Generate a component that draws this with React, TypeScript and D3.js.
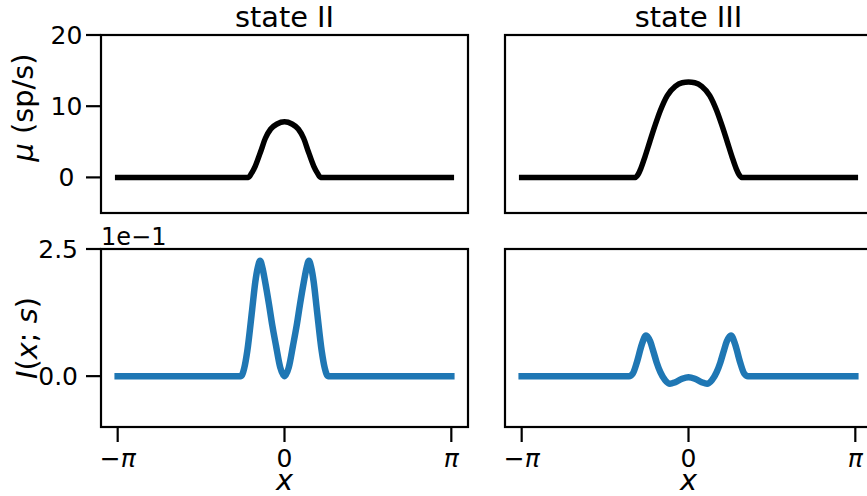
import React from 'react';
import * as d3 from 'd3';

const PI = Math.PI;

// ---- tick / label data ----
const panelTitles = ['state II', 'state III'];
const xTickValues = [-PI, 0, PI];
const xTickLabels = ['−π', '0', 'π'];
const muYTicks = [0, 10, 20];
const muYTickLabels = ['0', '10', '20'];
const infoYTicks = [0, 0.25];
const infoYTickLabels = ['0.0', '2.5'];

// ---- series data ----
const muIIx = [-PI, -0.68, -0.62, -0.55, -0.45, -0.36, -0.26, -0.14, 0, 0.14, 0.26, 0.36, 0.45, 0.55, 0.62, 0.68, PI];
const muIIy = [0, 0, 0.6, 1.6, 3.6, 5.5, 6.8, 7.5, 7.8, 7.5, 6.8, 5.5, 3.6, 1.6, 0.6, 0, 0];

const muIIIx = [-PI, -1.0, -0.95, -0.9, -0.82, -0.73, -0.63, -0.53, -0.4, -0.25, -0.12, 0, 0.12, 0.25, 0.4, 0.53, 0.63, 0.73, 0.82, 0.9, 0.95, 1.0, PI];
const muIIIy = [0, 0, 0.4, 1.2, 2.9, 5.0, 7.3, 9.4, 11.5, 12.8, 13.3, 13.4, 13.3, 12.8, 11.5, 9.4, 7.3, 5.0, 2.9, 1.2, 0.4, 0, 0];

const infoIIx = [-PI, -0.82, -0.76, -0.7, -0.61, -0.55, -0.5, -0.46, -0.42, -0.36, -0.29, -0.23, -0.16, -0.08, 0, 0.08, 0.16, 0.23, 0.29, 0.36, 0.42, 0.46, 0.5, 0.55, 0.61, 0.7, 0.76, 0.82, PI];
const infoIIy = [0, 0, 0.015, 0.05, 0.13, 0.185, 0.215, 0.227, 0.215, 0.183, 0.14, 0.1, 0.06, 0.017, 0, 0.017, 0.06, 0.1, 0.14, 0.183, 0.215, 0.227, 0.215, 0.185, 0.13, 0.05, 0.015, 0, 0];

const infoIIIx = [-PI, -1.12, -1.05, -0.97, -0.88, -0.8, -0.72, -0.66, -0.6, -0.53, -0.44, -0.35, -0.25, -0.12, 0, 0.12, 0.25, 0.35, 0.44, 0.53, 0.6, 0.66, 0.72, 0.8, 0.88, 0.97, 1.05, 1.12, PI];
const infoIIIy = [0, 0, 0.005, 0.028, 0.062, 0.08, 0.068, 0.048, 0.027, 0.008, -0.008, -0.015, -0.012, -0.005, -0.002, -0.005, -0.012, -0.015, -0.008, 0.008, 0.027, 0.048, 0.068, 0.08, 0.062, 0.028, 0.005, 0, 0];

const FONT = '"DejaVu Sans", Verdana, sans-serif';
const BLUE = '#1f77b4';

function mathText(label: string) {
  return label.split('').map((c, i) =>
    c === 'π' || c === 'μ' ? (
      <tspan key={i} fontStyle="italic">{c}</tspan>
    ) : (
      <tspan key={i}>{c}</tspan>
    )
  );
}

export default function App() {
  const W = 867;
  const H = 496;
  const colLeft = [101, 505];
  const axW = 367;
  const rowTop = [35, 249];
  const axH = 178;
  const tickLen = 15;
  const spineW = 2.2;

  const xScales = colLeft.map((l) => d3.scaleLinear().domain([-PI * 1.1, PI * 1.1]).range([l, l + axW]));
  const yMu = d3.scaleLinear().domain([-5, 20]).range([rowTop[0] + axH, rowTop[0]]);
  const yInfo = d3.scaleLinear().domain([-0.1, 0.25]).range([rowTop[1] + axH, rowTop[1]]);

  const mkLine = (xs: number[], ys: number[], xS: d3.ScaleLinear<number, number>, yS: d3.ScaleLinear<number, number>) =>
    d3
      .line<number>()
      .x((_, i) => xS(xs[i]))
      .y((d) => yS(d))
      .curve(d3.curveMonotoneX)(ys) || '';

  const muSeries = [
    { xs: muIIx, ys: muIIy },
    { xs: muIIIx, ys: muIIIy },
  ];
  const infoSeries = [
    { xs: infoIIx, ys: infoIIy },
    { xs: infoIIIx, ys: infoIIIy },
  ];

  return (
    <svg
      width={W}
      height={H}
      style={{ position: 'absolute', left: 0, top: 0, background: '#fff' }}
      fontFamily={FONT}
    >
      <rect x={0} y={0} width={W} height={H} fill="#fff" />
      {[0, 1].map((c) => {
        const xS = xScales[c];
        const cx = xS(0);
        return (
          <g key={c}>
            <text x={cx} y={27} textAnchor="middle" fontSize={28.8}>
              {panelTitles[c]}
            </text>
            <path
              d={mkLine(muSeries[c].xs, muSeries[c].ys, xS, yMu)}
              fill="none"
              stroke="#000"
              strokeWidth={5.5}
              strokeLinecap="square"
              strokeLinejoin="round"
            />
            <rect x={colLeft[c]} y={rowTop[0]} width={axW} height={axH} fill="none" stroke="#000" strokeWidth={spineW} />
            <path
              d={mkLine(infoSeries[c].xs, infoSeries[c].ys, xS, yInfo)}
              fill="none"
              stroke={BLUE}
              strokeWidth={6.5}
              strokeLinecap="square"
              strokeLinejoin="round"
            />
            <rect x={colLeft[c]} y={rowTop[1]} width={axW} height={axH} fill="none" stroke="#000" strokeWidth={spineW} />
            {xTickValues.map((v, i) => (
              <g key={i}>
                <line x1={xS(v)} x2={xS(v)} y1={rowTop[1] + axH} y2={rowTop[1] + axH + tickLen} stroke="#000" strokeWidth={spineW} />
                <text x={xS(v)} y={467} textAnchor="middle" fontSize={25}>
                  {mathText(xTickLabels[i])}
                </text>
              </g>
            ))}
            <text x={cx} y={490} textAnchor="middle" fontSize={28.8} fontStyle="italic">
              x
            </text>
          </g>
        );
      })}

      {muYTicks.map((v, i) => (
        <g key={'m' + i}>
          <line x1={colLeft[0] - tickLen} x2={colLeft[0]} y1={yMu(v)} y2={yMu(v)} stroke="#000" strokeWidth={spineW} />
          <text x={66.5} y={yMu(v)} dy="0.36em" textAnchor="middle" fontSize={25}>
            {muYTickLabels[i]}
          </text>
        </g>
      ))}
      {infoYTicks.map((v, i) => (
        <g key={'i' + i}>
          <line x1={colLeft[0] - tickLen} x2={colLeft[0]} y1={yInfo(v)} y2={yInfo(v)} stroke="#000" strokeWidth={spineW} />
          <text x={78} y={yInfo(v)} dy="0.36em" textAnchor="end" fontSize={25}>
            {infoYTickLabels[i]}
          </text>
        </g>
      ))}
      <text x={colLeft[0]} y={245} fontSize={24}>
        1e−1
      </text>

      <text transform="translate(33,107.5) rotate(-90)" textAnchor="middle" fontSize={28.8}>
        <tspan fontStyle="italic">μ</tspan>
        <tspan> (sp/s)</tspan>
      </text>
      <text transform="translate(36.5,338) rotate(-90)" textAnchor="middle" fontSize={28.8}>
        <tspan fontStyle="italic">I</tspan>
        <tspan>(</tspan>
        <tspan fontStyle="italic">x</tspan>
        <tspan>; </tspan>
        <tspan fontStyle="italic">s</tspan>
        <tspan>)</tspan>
      </text>
    </svg>
  );
}
